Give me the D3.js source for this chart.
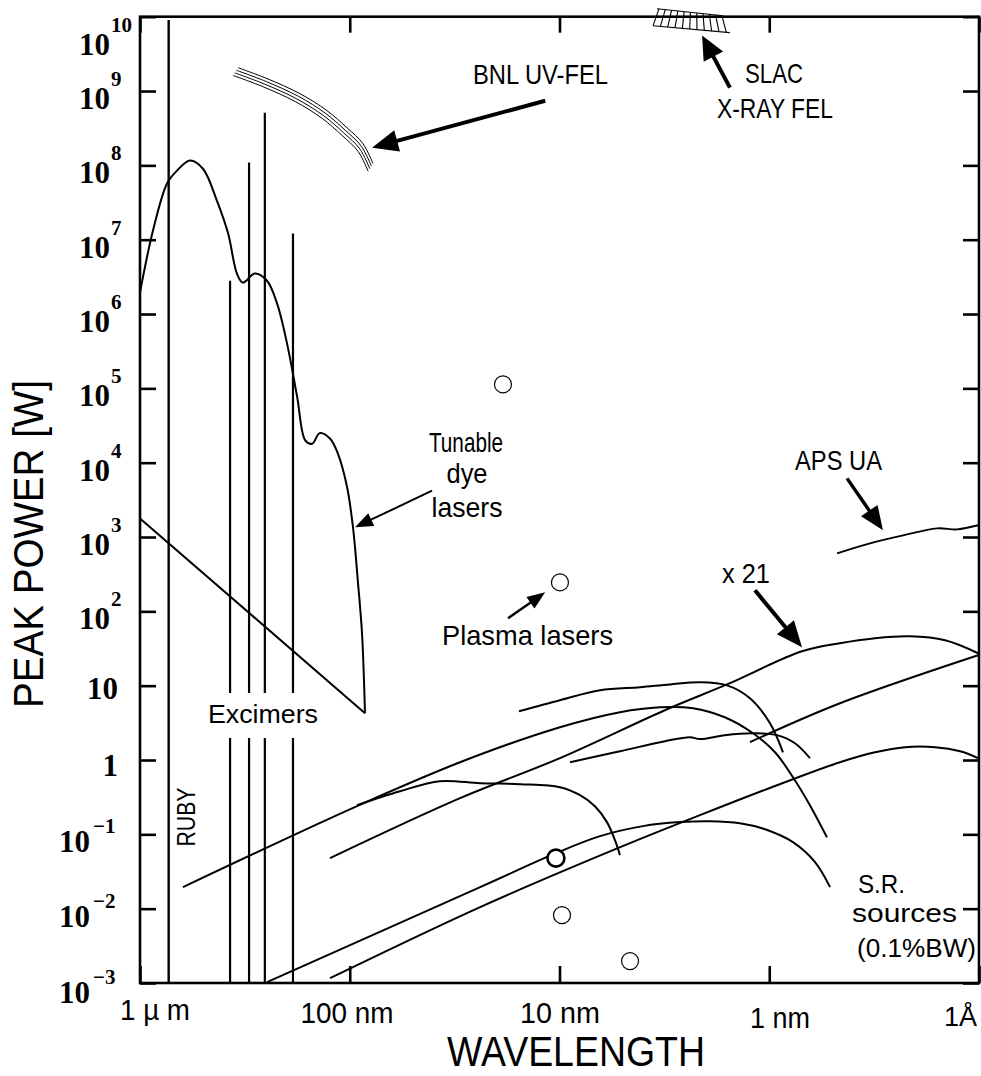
<!DOCTYPE html>
<html>
<head>
<meta charset="utf-8">
<script src="https://cdn.jsdelivr.net/npm/d3@7"></script>
<style>
  body { margin: 0; background: #fff; }
  svg { display: block; }
  .lbl { font-family: "Liberation Sans", Arial, sans-serif; fill: #000; }
  .num { font-family: "Liberation Serif", "Times New Roman", serif; font-weight: bold; fill: #000; }
</style>
</head>
<body>
<svg id="chart" width="981" height="1076"></svg>
<script>
// wavelength in nm, peak power in W

var xTicks = [1000, 100, 10, 1, 0.1];
var xTickLabels = ["1 \u00b5 m", "100 nm", "10 nm", "1 nm", "1\u00c5"];
var yTicks = [1e10, 1e9, 1e8, 1e7, 1e6, 1e5, 1e4, 1e3, 1e2, 10, 1, 1e-1, 1e-2, 1e-3];

// tunable dye lasers envelope
var tunableDye = [
  [1000, 1.95e6], [867, 1.33e7], [743, 5.7e7], [666, 8.5e7], [577, 1.16e8],
  [501, 9.0e7], [430, 3.36e7], [380, 1.21e7], [345, 3.5e6], [323, 2.65e6],
  [283, 3.5e6], [248, 2.8e6], [222, 1.38e6], [199, 4.0e5], [178, 7.6e4],
  [163, 2.0e4], [151, 1.8e4], [139, 2.5e4], [124, 2.1e4], [114, 1.33e4],
  [103, 4.7e3], [96.5, 1350], [91.3, 238], [87.4, 50.7], [84.6, 4.26]
];
var dyeLowerEdge = [[1000, 1780], [84.6, 4.26]];

// line sources: [wavelength, top power]
var ruby = [[730, 9e9]];
var excimers = [[372, 2.8e6], [302, 1.09e8], [254, 5.1e8], [186.5, 1.21e7]];

// FELs
var bnlFel = [[341, 2.06e9], [248, 1.47e9], [172.6, 9.2e8], [128.4, 5.45e8], [103, 3.2e8], [86.5, 1.96e8], [77.5, 1.06e8]];
var slacTop = [[3.43, 1.28e10], [1.66, 1.03e10]];
var slacBottom = [[3.58, 7.57e9], [1.54, 6.1e9]];

// undulator
var apsUA = [[0.475, 603], [0.331, 822], [0.23, 1052], [0.1585, 1307], [0.127, 1267], [0.101, 1436]];

// synchrotron radiation sources (0.1% BW)
var srTen = [[15.6, 4.53], [9.95, 6.37], [6.41, 8.67], [4.13, 9.52], [2.97, 10.4], [2.14, 11.1], [1.59, 10.1], [1.236, 6.78], [0.992, 3.12], [0.86, 1.27]];
var srFive = [[624, 0.0195], [92.3, 0.24], [29.8, 0.934], [9.95, 2.76], [5.15, 4.40], [3.32, 5.13], [2.31, 4.98], [1.63, 3.76], [1.195, 2.29], [0.939, 1.27], [0.771, 0.587], [0.64, 0.247], [0.531, 0.0916]];
var srHalf = [[92.3, 0.247], [57.6, 0.38], [37.2, 0.519], [23.9, 0.488], [15.4, 0.473], [9.95, 0.431], [7.98, 0.336], [6.78, 0.239], [5.94, 0.146], [5.44, 0.0835], [5.15, 0.0525]];
var srX21 = [[124.2, 0.0479], [29.8, 0.307], [9.95, 1.06], [3.07, 4.82], [1.59, 10.4], [0.698, 29.0], [0.46, 37.2], [0.313, 43.4], [0.213, 46.1], [0.145, 40.8], [0.101, 27.3]];
var srTwo = [[8.91, 0.934], [5.15, 1.31], [3.14, 1.79], [2.39, 2.03], [2.14, 1.91], [1.63, 2.16], [1.195, 2.29], [0.918, 2.16], [0.754, 1.68], [0.64, 1.06]];
var srHard = [[1.236, 1.74], [0.46, 5.81], [0.101, 25.7]];
var srLow = [[248, 0.00103], [23.9, 0.0195], [10.4, 0.0558], [6.41, 0.0946], [4.0, 0.129], [2.66, 0.146], [1.92, 0.150], [1.38, 0.141], [1.047, 0.117], [0.771, 0.0785], [0.605, 0.0423], [0.513, 0.0195]];
var srMid = [[124.2, 0.00116], [23.9, 0.0105], [5.56, 0.0612], [2.14, 0.181], [0.771, 0.552], [0.46, 0.934], [0.313, 1.27], [0.225, 1.49], [0.162, 1.49], [0.123, 1.31], [0.101, 1.06]];

// plasma lasers
var plasmaLasers = [[18.6, 1.13e5], [9.95, 245], [10.4, 0.0479], [9.73, 0.00818], [4.61, 0.00197]];

// annotation arrows: [from, to]
var arrBnl = [[11.7, 7.4e8], [78.3, 1.73e8]];
var arrSlac = [[1.54, 1.11e9], [2.09, 5.6e9]];
var arrDye = [[40.5, 4.2e3], [94.4, 1350]];
var arrPlasma = [[17.6, 80.5], [11.7, 180]];
var arrX21 = [[1.17, 192], [0.698, 32.9]];
var arrAps = [[0.4257, 6150], [0.287, 1230]];

var svg = d3.select("#chart");

var x = d3.scaleLog().domain([1000, 0.1]).range([140, 979]);
var y = d3.scaleLog().domain([1e-3, 1e10]).range([983, 16.7]);

var line = d3.line()
  .x(d => x(d[0]))
  .y(d => y(d[1]))
  .curve(d3.curveCatmullRom.alpha(0.5));

// frame + inward ticks
function styleAxis(g) {
  g.select(".domain").remove();
  g.selectAll("line").attr("stroke", "#000").attr("stroke-width", 2.6);
}
svg.append("g").attr("transform", "translate(140,0)")
  .call(d3.axisLeft(y).tickValues(yTicks).tickSize(-16).tickFormat("")).call(styleAxis);
svg.append("g").attr("transform", "translate(979,0)")
  .call(d3.axisRight(y).tickValues(yTicks).tickSize(-16).tickFormat("")).call(styleAxis);
svg.append("g").attr("transform", "translate(0,983)")
  .call(d3.axisBottom(x).tickValues(xTicks).tickSize(-17).tickFormat("")).call(styleAxis);
svg.append("g").attr("transform", "translate(0,16.7)")
  .call(d3.axisTop(x).tickValues(xTicks).tickSize(-16).tickFormat("")).call(styleAxis);

svg.append("rect")
  .attr("x", 140).attr("y", 16.7).attr("width", 839).attr("height", 966.3)
  .attr("fill", "none").attr("stroke", "#000").attr("stroke-width", 2.6);

// y tick labels
yTicks.forEach(function(v) {
  var e = Math.round(Math.log10(v));
  var py = y(v);
  if (e === 1 || e === 0) {
    svg.append("text").attr("class", "num").attr("text-anchor", "end")
      .attr("x", 118).attr("y", py + (e === 1 ? 13 : 16)).attr("font-size", 31)
      .text(e === 1 ? "10" : "1");
    return;
  }
  var shift = e === 10 ? 20 : (e === -3 ? 2 : 0);
  svg.append("text").attr("class", "num").attr("text-anchor", "end")
    .attr("x", e < 0 ? 90 : 110).attr("y", py + 18 + shift).attr("font-size", 31)
    .text("10");
  svg.append("text").attr("class", "num")
    .attr("x", e < 0 ? 93 : 111).attr("y", py + (e < 0 ? -1 : -5) + shift).attr("font-size", 21)
    .text(e < 0 ? "\u2212" + (-e) : String(e));
});

// x tick labels
var xLabPos = [[155, 1020, "middle"], [347, 1023, "middle"], [560, 1023, "middle"], [780, 1028, "middle"], [977, 1026, "end"]];
var xLabLen = [70, 93, 80, 60, null];
xTicks.forEach(function(v, i) {
  var t = svg.append("text").attr("class", "lbl").attr("text-anchor", xLabPos[i][2])
    .attr("x", xLabPos[i][0]).attr("y", xLabPos[i][1]).attr("font-size", i === 4 ? 27 : 30)
    .text(xTickLabels[i]);
  if (xLabLen[i]) t.attr("textLength", xLabLen[i]).attr("lengthAdjust", "spacingAndGlyphs");
});

// axis titles
svg.append("text").attr("class", "lbl").attr("text-anchor", "middle")
  .attr("transform", "translate(43,544) rotate(-90)").attr("font-size", 43)
  .attr("textLength", 328).attr("lengthAdjust", "spacingAndGlyphs")
  .text("PEAK POWER [W]");
svg.append("text").attr("class", "lbl").attr("text-anchor", "middle")
  .attr("x", 576).attr("y", 1066).attr("font-size", 42)
  .attr("textLength", 258).attr("lengthAdjust", "spacingAndGlyphs")
  .text("WAVELENGTH");

// ruby and excimer lines
svg.selectAll(".ruby").data(ruby).join("line").attr("class", "ruby")
  .attr("x1", d => x(d[0])).attr("x2", d => x(d[0]))
  .attr("y1", d => y(d[1])).attr("y2", y(1e-3))
  .attr("stroke", "#000").attr("stroke-width", 2.4);
svg.selectAll(".exc").data(excimers).join("line").attr("class", "exc")
  .attr("x1", d => x(d[0])).attr("x2", d => x(d[0]))
  .attr("y1", d => y(d[1])).attr("y2", y(1e-3))
  .attr("stroke", "#000").attr("stroke-width", 2.2);

// tunable dye lasers
svg.append("path").datum(tunableDye).attr("d", line)
  .attr("fill", "none").attr("stroke", "#000").attr("stroke-width", 2);
svg.append("path").datum(dyeLowerEdge).attr("d", d3.line().x(d => x(d[0])).y(d => y(d[1])))
  .attr("fill", "none").attr("stroke", "#000").attr("stroke-width", 2);

// gap in the excimer lines for the label
svg.append("rect").attr("x", 205).attr("y", 693).attr("width", 118).attr("height", 45).attr("fill", "#fff");

// S.R. curves and undulator
[srTen, srFive, srHalf, srX21, srTwo, srHard, srLow, srMid, apsUA].forEach(function(c) {
  svg.append("path").datum(c).attr("d", line)
    .attr("fill", "none").attr("stroke", "#000").attr("stroke-width", 2);
});

// BNL UV-FEL band: four parallel thin curves
for (var k = 0; k < 4; k++) {
  svg.append("path").datum(bnlFel)
    .attr("d", d3.line().x(d => x(d[0]) - 1.6 * k).y(d => y(d[1]) + 2.6 * k).curve(d3.curveCatmullRom.alpha(0.5)))
    .attr("fill", "none").attr("stroke", "#000").attr("stroke-width", 1);
}

// SLAC X-ray FEL hatched band
var st0 = [x(slacTop[0][0]), y(slacTop[0][1])], st1 = [x(slacTop[1][0]), y(slacTop[1][1])];
var sb0 = [x(slacBottom[0][0]), y(slacBottom[0][1])], sb1 = [x(slacBottom[1][0]), y(slacBottom[1][1])];
var slac = svg.append("g").attr("stroke", "#000").attr("stroke-width", 1.1);
slac.append("line").attr("x1", st0[0]).attr("y1", st0[1]).attr("x2", st1[0]).attr("y2", st1[1]);
slac.append("line").attr("x1", sb0[0]).attr("y1", sb0[1]).attr("x2", sb1[0]).attr("y2", sb1[1]);
d3.range(11).forEach(function(i) {
  var t = i / 10.5;
  var tt = Math.min(1, t + 0.03);
  slac.append("line")
    .attr("x1", st0[0] + (st1[0] - st0[0]) * tt).attr("y1", st0[1] + (st1[1] - st0[1]) * tt)
    .attr("x2", sb0[0] + (sb1[0] - sb0[0]) * t).attr("y2", sb0[1] + (sb1[1] - sb0[1]) * t);
});

// plasma lasers
svg.selectAll(".pl").data(plasmaLasers).join("circle").attr("class", "pl")
  .attr("cx", d => x(d[0])).attr("cy", d => y(d[1])).attr("r", 8.5)
  .attr("fill", "#fff").attr("stroke", "#000")
  .attr("stroke-width", (d, i) => i === 2 ? 2.6 : 1.2);

// arrows
function arrow(a, w, hl, hw) {
  var x0 = x(a[0][0]), y0 = y(a[0][1]), x1 = x(a[1][0]), y1 = y(a[1][1]);
  var dx = x1 - x0, dy = y1 - y0, L = Math.sqrt(dx * dx + dy * dy);
  var ux = dx / L, uy = dy / L;
  var bx = x1 - ux * hl, by = y1 - uy * hl;
  svg.append("line").attr("x1", x0).attr("y1", y0).attr("x2", bx + ux * 2).attr("y2", by + uy * 2)
    .attr("stroke", "#000").attr("stroke-width", w);
  svg.append("path")
    .attr("d", "M" + x1 + "," + y1 + "L" + (bx - uy * hw) + "," + (by + ux * hw) + "L" + (bx + uy * hw) + "," + (by - ux * hw) + "Z")
    .attr("fill", "#000");
}
arrow(arrBnl, 4, 26, 11);
arrow(arrSlac, 4, 24, 11);
arrow(arrDye, 2, 18, 7);
arrow(arrPlasma, 2.5, 18, 7);
arrow(arrX21, 4, 26, 11);
arrow(arrAps, 3.5, 24, 10);

// annotation texts
function label(txt, px, py, size, len, anchor, rot) {
  var t = svg.append("text").attr("class", "lbl").attr("font-size", size)
    .attr("text-anchor", anchor || "start").text(txt);
  if (rot) t.attr("transform", "translate(" + px + "," + py + ") rotate(" + rot + ")");
  else t.attr("x", px).attr("y", py);
  if (len) t.attr("textLength", len).attr("lengthAdjust", "spacingAndGlyphs");
  return t;
}
label("BNL UV-FEL", 473, 84, 28, 135);
label("SLAC", 774, 83, 28, 58, "middle");
label("X-RAY FEL", 775, 118, 28, 116, "middle");
label("Tunable", 466, 452, 28, 74, "middle");
label("dye", 467, 483, 28, 41, "middle");
label("lasers", 467, 517, 28, 71, "middle");
label("Plasma lasers", 442, 645, 28, 171);
label("Excimers", 208, 723, 26, 110);
label("RUBY", 195, 817, 25, 59, "middle", -90);
label("x 21", 722, 583, 28, 48);
label("APS UA", 795, 470, 28, 87);
label("S.R.", 858, 893, 26, 47);
label("sources", 852, 922, 26, 105);
label("(0.1%BW)", 857, 957, 26, 119);
</script>
</body>
</html>
